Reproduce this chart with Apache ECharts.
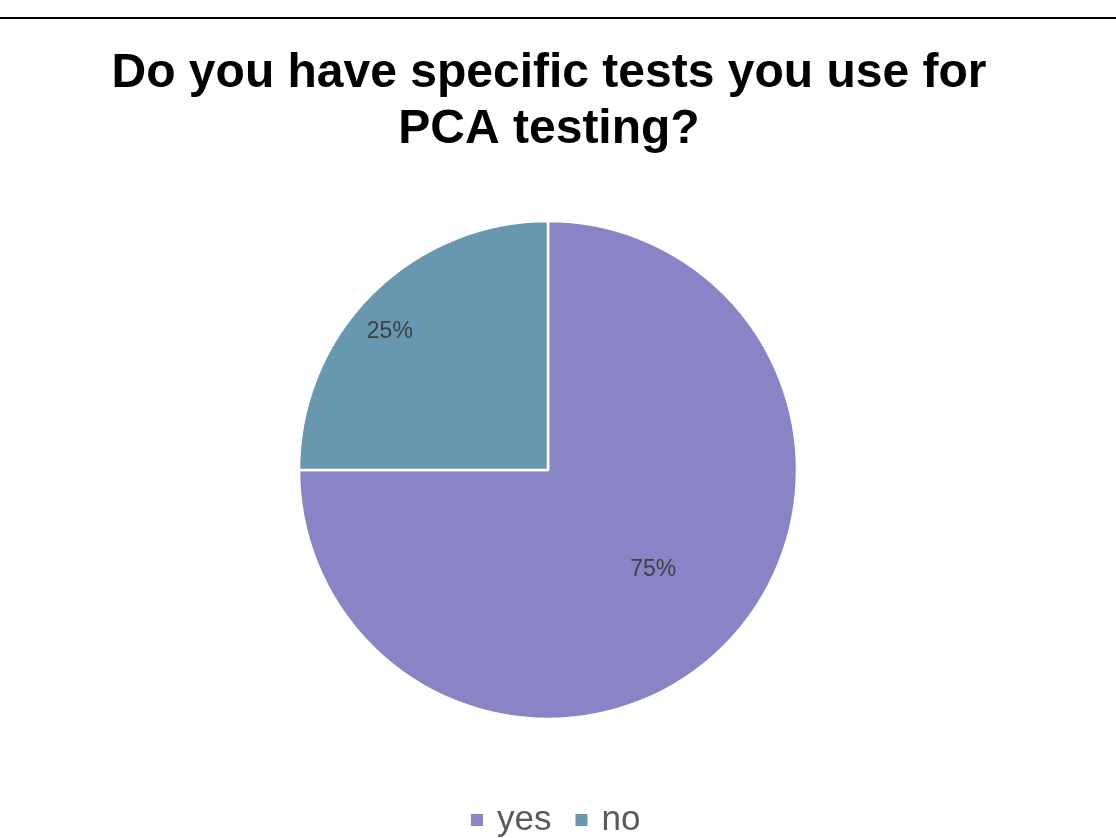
<!DOCTYPE html>
<html>
<head>
<meta charset="utf-8">
<script src="https://cdn.jsdelivr.net/npm/echarts@6/dist/echarts.min.js"></script>
<style>
  html, body { margin: 0; padding: 0; background: #fff; }
  #rule { position: absolute; left: 0; top: 17px; width: 1116px; height: 2px; background: #000; }
  #chart { width: 1116px; height: 838px; }
</style>
</head>
<body>
<div id="rule"></div>
<div id="chart"></div>
<script>
// Survey answers
const categories = ['yes', 'no'];
const shares = [75, 25];
const colors = ['#8884c6', '#6897b0'];

// Label offsets from the default inside anchor, per slice
const labelShift = [[15, 10], [-68, -48]];

const chart = echarts.init(document.getElementById('chart'), null, { renderer: 'canvas' });

chart.setOption({
  animation: false,
  title: {
    text: 'Do you have specific tests you use for\nPCA testing?',
    left: 544,
    textAlign: 'center',
    top: 41,
    textStyle: {
      fontFamily: 'Liberation Sans, Arial, sans-serif',
      fontWeight: 'bold',
      fontSize: 48,
      lineHeight: 56,
      color: '#000'
    }
  },
  legend: {
    data: categories,
    top: 800,
    left: 469,
    padding: 0,
    icon: 'rect',
    itemWidth: 14,
    itemHeight: 14,
    itemGap: 22,
    textStyle: {
      fontFamily: 'Liberation Sans, Arial, sans-serif',
      fontSize: 35,
      lineHeight: 40,
      padding: [0, 0, 0, 8],
      color: '#595959'
    }
  },
  series: [{
    type: 'pie',
    center: [548, 470],
    radius: 249,
    startAngle: 90,
    clockwise: true,
    data: categories.map((c, i) => ({
      name: c,
      value: shares[i],
      itemStyle: { color: colors[i] }
    })),
    itemStyle: { borderColor: '#fff', borderWidth: 2.5 },
    label: {
      show: true,
      position: 'inside',
      formatter: p => p.value + '%',
      fontFamily: 'Liberation Sans, Arial, sans-serif',
      fontSize: 23,
      color: '#404040'
    },
    labelLayout: p => ({ dx: labelShift[p.dataIndex][0], dy: labelShift[p.dataIndex][1] }),
    labelLine: { show: false },
    emphasis: { disabled: true }
  }]
});
</script>
</body>
</html>
